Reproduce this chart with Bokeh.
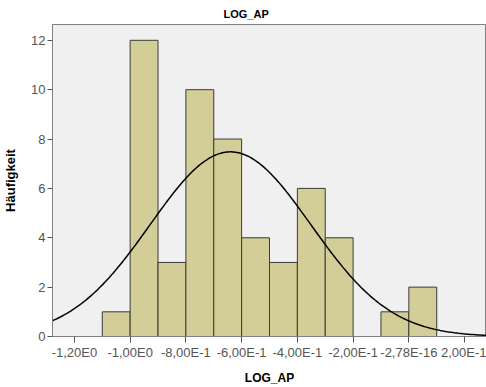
import numpy as np
from bokeh.plotting import figure
from bokeh.models import FixedTicker, Range1d, ColumnDataSource
from bokeh.embed import file_html
from bokeh.resources import INLINE

# Data
bin_left = [-1.1, -1.0, -0.9, -0.8, -0.7, -0.6, -0.5, -0.4, -0.3, -0.2, -0.1, 0.0]
counts = [1, 12, 3, 10, 8, 4, 3, 6, 4, 0, 1, 2]
bin_width = 0.1
mean_val = -0.64
sd_val = 0.288
x_ticks = [-1.2, -1.0, -0.8, -0.6, -0.4, -0.2, 0.0, 0.2]
x_tick_labels = ["-1,20E0", "-1,00E0", "-8,00E-1", "-6,00E-1", "-4,00E-1",
                 "-2,00E-1", "-2,78E-16", "2,00E-1"]
y_ticks = [0, 2, 4, 6, 8, 10, 12]

FONT = "Liberation Sans"

p = figure(width=486, height=387, output_backend="svg", toolbar_location=None,
           x_range=Range1d(-1.2786, 0.2786), y_range=Range1d(0, 12.64),
           min_border_left=50, min_border_right=0, min_border_top=24,
           min_border_bottom=48, title="LOG_AP")

p.background_fill_color = "#F0F0F0"
p.border_fill_color = "white"
p.outline_line_color = "#808080"
p.outline_line_width = 1
p.grid.visible = False

p.title.align = "left"
p.title.offset = 171
p.title.text_font = FONT
p.title.text_font_size = "11px"
p.title.text_font_style = "bold"
p.title.text_color = "black"

# bars
lefts = np.array(bin_left)
src = ColumnDataSource(dict(left=lefts, right=lefts + bin_width, top=counts))
p.quad(left="left", right="right", bottom=0, top="top", source=src,
       fill_color="#D3CE97", line_color="#3A3A3A", line_width=1)

# normal curve
xs = np.linspace(-1.2786, 0.2786, 300)
n_total = sum(counts)
ys = n_total * bin_width / (sd_val * np.sqrt(2 * np.pi)) * np.exp(-0.5 * ((xs - mean_val) / sd_val) ** 2)
p.line(xs, ys, line_color="black", line_width=1.5)

# axes
p.xaxis.ticker = FixedTicker(ticks=x_ticks)
p.xaxis.major_label_overrides = {t: l for t, l in zip(x_ticks, x_tick_labels)}
p.yaxis.ticker = FixedTicker(ticks=y_ticks)
for ax in (p.xaxis[0], p.yaxis[0]):
    ax.axis_line_color = "#808080"
    ax.major_tick_line_color = "#555555"
    ax.minor_tick_line_color = None
    ax.major_tick_in = 0
    ax.major_label_text_font = FONT
    ax.major_label_text_font_size = "13px"
    ax.major_label_text_color = "#555555"
    ax.axis_label_text_font = FONT
    ax.axis_label_text_font_style = "bold"
    ax.axis_label_text_color = "black"
p.xaxis.major_tick_out = 6
p.yaxis.major_tick_out = 5
p.xaxis.major_label_standoff = 2
p.yaxis.major_label_standoff = 2
p.xaxis.axis_label = "LOG_AP"
p.xaxis.axis_label_text_font_size = "12px"
p.xaxis.axis_label_standoff = 8
p.yaxis.axis_label = "Häufigkeit"
p.yaxis.axis_label_text_font_size = "13px"
p.yaxis.axis_label_standoff = 10

open("out.html", "w").write(file_html(p, INLINE))
